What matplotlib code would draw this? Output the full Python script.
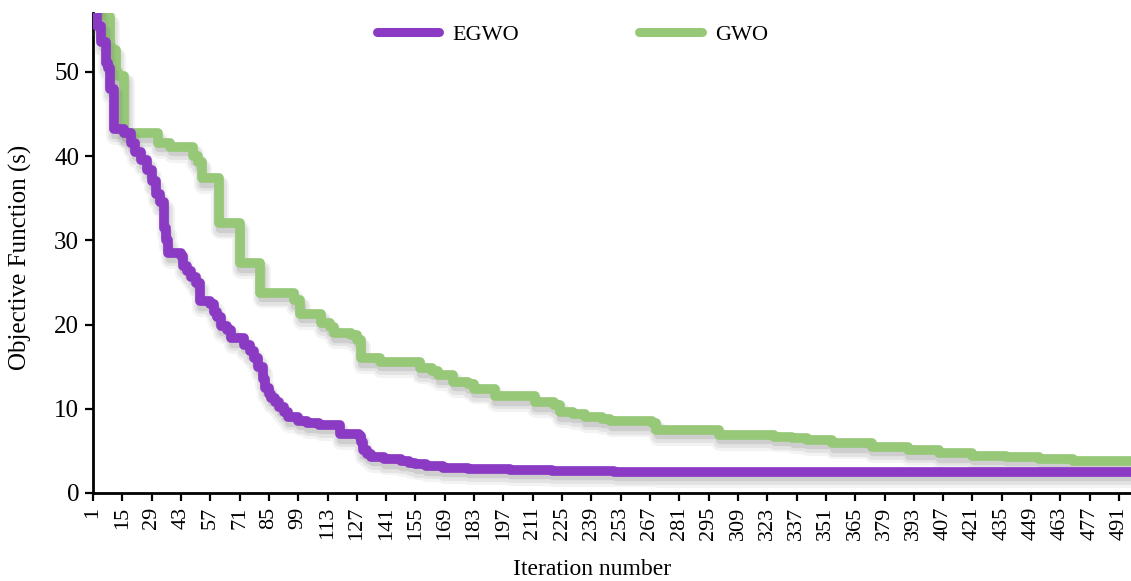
import numpy as np
import matplotlib
matplotlib.use('Agg')
import matplotlib.pyplot as plt
import matplotlib.patheffects as pe

# Puntos de cambio (iteracion, valor) de cada curva
iter_egwo = [1, 3, 5, 7, 8, 9, 11, 16, 19, 21, 24, 27, 29, 31, 33, 35, 36, 37, 43, 44, 46, 48, 50,
             52, 57, 59, 60, 62, 65, 67, 73, 76, 78, 80, 82, 83, 85, 86, 88, 90, 92, 94, 99, 103,
             109, 119, 128, 129, 130, 132, 134, 140, 148, 152, 155, 160, 168, 180, 200, 220, 250,
             270, 500]
val_egwo = [57.5, 55.5, 53.5, 51.0, 50.5, 48.0, 43.2, 42.8, 41.5, 40.5, 39.5, 38.3, 37.0, 35.5,
            34.5, 31.5, 30.0, 28.5, 28.1, 27.0, 26.3, 25.7, 24.9, 22.8, 22.4, 21.5, 20.9, 19.8,
            19.4, 18.4, 17.6, 16.8, 16.0, 15.0, 13.5, 12.5, 11.8, 11.3, 10.8, 10.2, 9.6, 9.0, 8.6,
            8.3, 8.1, 7.0, 6.8, 6.0, 5.1, 4.6, 4.3, 4.0, 3.8, 3.6, 3.4, 3.2, 3.0, 2.9, 2.75, 2.65,
            2.55, 2.5, 2.5]

iter_gwo = [1, 4, 7, 9, 10, 12, 13, 16, 32, 38, 49, 51, 53, 61, 71, 81, 97, 100, 110, 114, 116,
            124, 127, 129, 138, 157, 163, 166, 173, 180, 183, 193, 212, 221, 224, 230, 236, 244,
            248, 268, 270, 300, 326, 335, 342, 354, 373, 390, 405, 421, 437, 453, 469, 497, 500]
val_gwo = [75.0, 64.0, 56.5, 53.0, 52.6, 50.0, 49.5, 42.7, 41.6, 41.1, 40.0, 39.3, 37.4, 32.0,
           27.3, 23.8, 22.9, 21.3, 20.2, 19.7, 19.0, 18.8, 18.2, 16.0, 15.6, 14.8, 14.5, 14.0,
           13.2, 12.9, 12.4, 11.5, 10.8, 10.5, 9.6, 9.4, 9.0, 8.8, 8.5, 8.3, 7.5, 6.9, 6.7, 6.5,
           6.3, 5.9, 5.5, 5.1, 4.75, 4.45, 4.3, 4.05, 3.85, 3.75, 3.7]

ticks_x = list(range(1, 500, 14))
ticks_y = [0, 10, 20, 30, 40, 50]

color_egwo = '#8b3ac4'
color_gwo = '#97c878'

plt.rcParams['font.family'] = ['Liberation Serif', 'DejaVu Serif']

fig = plt.figure(figsize=(11.31, 5.81), dpi=100)
ax = fig.add_axes([0.0822, 0.1515, 1 - 0.0822, 0.8262])

# Sombra difusa debajo de las lineas
sombra = [pe.SimpleLineShadow(offset=(1, -5), shadow_color='#707070', alpha=0.08, linewidth=13),
          pe.SimpleLineShadow(offset=(1, -4.5), shadow_color='#707070', alpha=0.12, linewidth=10),
          pe.SimpleLineShadow(offset=(1, -4), shadow_color='#707070', alpha=0.18, linewidth=6),
          pe.Normal()]

ax.plot(iter_gwo, val_gwo, drawstyle='steps-post', color=color_gwo, lw=7,
        solid_joinstyle='round', solid_capstyle='round', label='GWO', path_effects=sombra, zorder=2)
ax.plot(iter_egwo, val_egwo, drawstyle='steps-post', color=color_egwo, lw=7,
        solid_joinstyle='round', solid_capstyle='round', label='EGWO', path_effects=sombra, zorder=3)

ax.set_xlim(1, 496.7)
ax.set_ylim(0, 57)
ax.set_xticks(ticks_x)
ax.set_xticklabels([str(t) for t in ticks_x], rotation=90, fontsize=16)
ax.set_yticks(ticks_y)
ax.set_yticklabels([str(t) for t in ticks_y], fontsize=18)
ax.tick_params(axis='both', direction='out', length=6, width=1.6, color='black', pad=4)

for s in ['top', 'right']:
    ax.spines[s].set_visible(False)
for s in ['left', 'bottom']:
    ax.spines[s].set_linewidth(2)
    ax.spines[s].set_color('black')

ax.set_xlabel('Iteration number', fontsize=17)
ax.xaxis.set_label_coords(0.481, -0.138)
ax.set_ylabel('Objective Function (s)', fontsize=18)
ax.yaxis.set_label_coords(-0.059, 0.49)

handles, labels = ax.get_legend_handles_labels()
leg = ax.legend(handles[::-1], labels[::-1], loc='center', bbox_to_anchor=(0.462, 0.955), ncol=2,
                frameon=False, fontsize=16, handlelength=2.8, columnspacing=5.4, handletextpad=0.6)
for linea in leg.get_lines():
    linea.set_path_effects([])
    linea.set_linewidth(6.5)
    linea.set_solid_capstyle('round')

plt.savefig('out.png', dpi=100)
